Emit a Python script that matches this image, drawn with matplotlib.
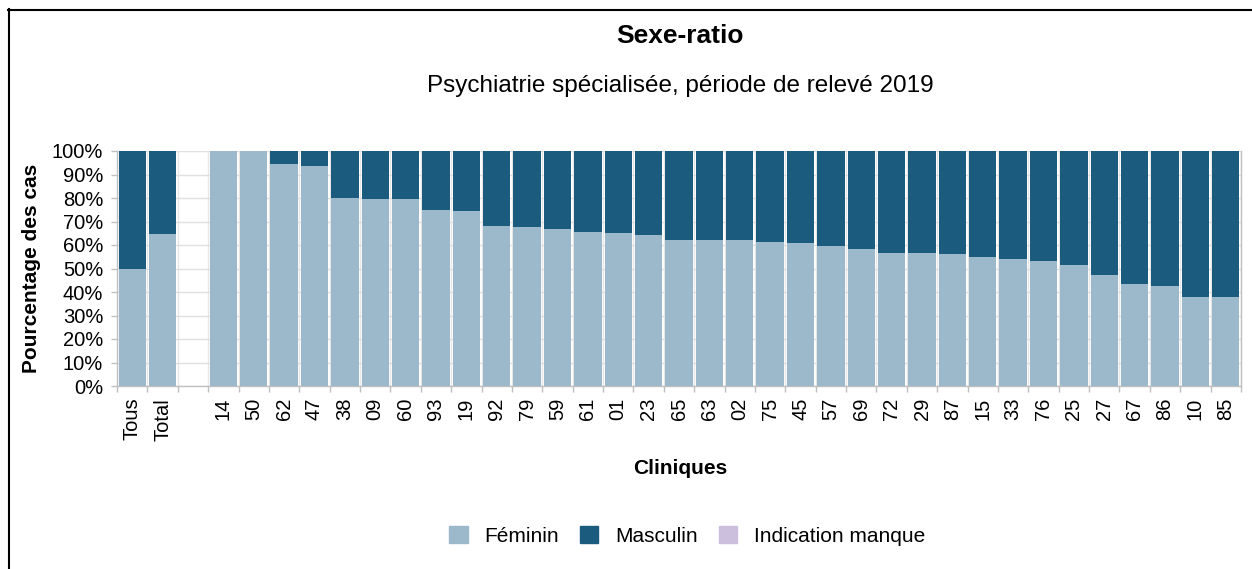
import matplotlib
matplotlib.use("Agg")
import matplotlib.pyplot as plt
from matplotlib.lines import Line2D
from matplotlib.patches import Patch
import numpy as np

plt.rcParams['font.family'] = ['Liberation Sans', 'DejaVu Sans']

categories = ["Tous", "Total", "", "14", "50", "62", "47", "38", "09", "60", "93", "19",
              "92", "79", "59", "61", "01", "23", "65", "63", "02", "75", "45", "57",
              "69", "72", "29", "87", "15", "33", "76", "25", "27", "67", "86", "10", "85"]
feminin = [50.0, 64.5, 0, 100, 100, 94.6, 93.5, 79.9, 79.6, 79.5, 75.1, 74.5,
           68.2, 67.5, 66.8, 65.5, 65.1, 64.2, 62.2, 62.1, 62.0, 61.2, 60.8, 59.4,
           58.3, 56.6, 56.4, 56.2, 54.9, 53.9, 53.0, 51.3, 47.4, 43.4, 42.7, 37.8, 37.8]
manque = [0] * len(categories)
masculin = [0 if c == "" else 100 - f - m for c, f, m in zip(categories, feminin, manque)]

col_f = "#9bb9ca"
col_m = "#1b5b7e"
col_i = "#cbbfdd"

W, H = 1252, 569
fig = plt.figure(figsize=(W / 100, H / 100), dpi=100)
ax = fig.add_axes([117 / W, 183 / H, (1241 - 117) / W, (386 - 151) / H])

x = np.arange(len(categories))
bw = 0.9
ax.bar(x, feminin, width=bw, color=col_f, zorder=3)
ax.bar(x, masculin, width=bw, bottom=feminin, color=col_m, zorder=3)
ax.bar(x, manque, width=bw, bottom=np.array(feminin) + np.array(masculin), color=col_i, zorder=3)

ax.set_xlim(-0.5, len(categories) - 0.5)
ax.set_ylim(0, 100)
ax.set_yticks(np.arange(0, 101, 10))
ax.set_yticklabels([f"{v}%" for v in range(0, 101, 10)], fontsize=14.5)
ax.set_xticks(x)
ax.set_xticklabels(categories, rotation=90, fontsize=14.5)
ax.set_xticks(np.arange(-0.5, len(categories), 1), minor=True)
ax.tick_params(axis='x', which='major', length=0, pad=8.5)
ax.tick_params(axis='x', which='minor', length=4, color="#c0c0c0", width=1)
ax.tick_params(axis='y', length=4, color="#c0c0c0", width=1, pad=6)
ax.grid(axis='y', color="#e0e0e0", lw=1, zorder=0)
ax.grid(axis='x', which='minor', color="#e6e6e6", lw=1, zorder=0)
ax.spines['top'].set_visible(False)
for s in ['left', 'bottom', 'right']:
    ax.spines[s].set_color("#c0c0c0")
    ax.spines[s].set_linewidth(1)

fig.text(680 / W, 1 - 468 / H, "Cliniques", fontsize=15, fontweight='bold', ha='center', va='center')
fig.text(32 / W, 1 - 268 / H, "Pourcentage des cas", rotation=90, fontsize=15,
         fontweight='bold', ha='center', va='center')

fig.text(680 / W, 1 - 36 / H, "Sexe-ratio", fontsize=19, fontweight='bold', ha='center', va='center')
fig.text(680 / W, 1 - 86 / H, "Psychiatrie spécialisée, période de relevé 2019", fontsize=17.5,
         ha='center', va='center')

handles = [Patch(color=col_f, label="Féminin"), Patch(color=col_m, label="Masculin"),
           Patch(color=col_i, label="Indication manque")]
fig.legend(handles=handles, loc='center', bbox_to_anchor=(687 / W, 1 - 536 / H), ncol=3,
           frameon=False, fontsize=15, handlelength=0.9, handleheight=0.9,
           handletextpad=0.8, columnspacing=1.0)

fig.add_artist(Line2D([8 / W, 1], [1 - 9.5 / H, 1 - 9.5 / H], color='black', lw=1.5, transform=fig.transFigure))
fig.add_artist(Line2D([8.5 / W, 8.5 / W], [0, 1 - 9 / H], color='black', lw=1.5, transform=fig.transFigure))

fig.savefig("out.png", dpi=100)
